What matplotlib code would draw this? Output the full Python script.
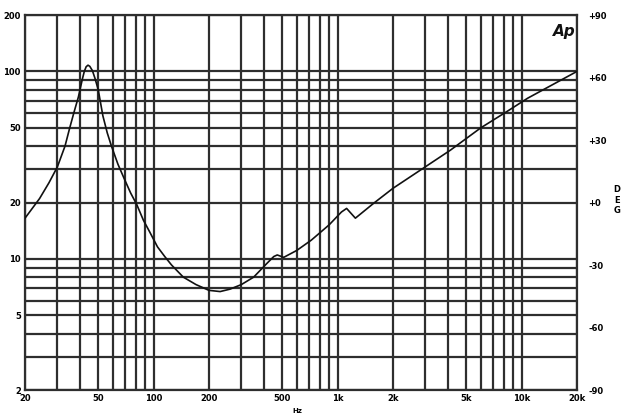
import matplotlib
matplotlib.use("Agg")
import matplotlib.pyplot as plt
from matplotlib.ticker import FixedLocator, FixedFormatter, NullFormatter

# impedance curve (Hz, ohm)
freq = [20, 24, 27, 30, 33, 35, 37, 39, 41, 42, 43, 44, 45, 46.5, 48, 50, 53,
        56, 59, 64, 69, 75, 81, 88, 95, 105, 115, 125, 145, 170, 200, 230,
        260, 300, 350, 410, 450, 470, 510, 600, 720, 900, 1050, 1120, 1250,
        1570, 2000, 3000, 4100, 6000, 8300, 10800, 14100, 20000]
imp = [16.5, 21, 25.5, 31, 40, 50, 61, 73, 91, 100, 106, 108, 106.5, 101, 92,
       80, 58, 47, 40, 32, 27, 22.5, 19.5, 16.1, 14, 11.6, 10.3, 9.3, 8.0,
       7.3, 6.8, 6.7, 6.9, 7.3, 8.0, 9.4, 10.3, 10.5, 10.2, 11.1, 12.6, 15.2,
       17.8, 18.6, 16.5, 19.8, 23.8, 31, 38, 50, 61, 72, 83, 100]

x_ticks = [20, 50, 100, 200, 500, 1000, 2000, 5000, 10000, 20000]
x_labels = ["20", "50", "100", "200", "500", "1k", "2k", "5k", "10k", "20k"]
y_ticks = [2, 5, 10, 20, 50, 100, 200]
y_labels = ["2", "5", "10", "20", "50", "100", "200"]
deg_ticks = [-90, -60, -30, 0, 30, 60, 90]
deg_labels = ["-90", "-60", "-30", "+0", "+30", "+60", "+90"]

x_grid = [m * 10 ** k for k in (1, 2, 3) for m in range(2, 10)] + [10000, 20000]
y_grid = [m * 10 ** k for k in (0, 1) for m in range(2, 10)] + [100, 200]

grid_col = "#2e2e2e"
fig = plt.figure(figsize=(6.3, 4.16), dpi=100)
ax = fig.add_axes([0.0397, 0.0625, 0.876, 0.9014])
ax.set_xscale("log")
ax.set_yscale("log")
ax.set_xlim(20, 20000)
ax.set_ylim(2, 200)

ax.xaxis.set_major_locator(FixedLocator(x_ticks))
ax.xaxis.set_major_formatter(FixedFormatter(x_labels))
ax.xaxis.set_minor_locator(FixedLocator([v for v in x_grid if v not in x_ticks]))
ax.xaxis.set_minor_formatter(NullFormatter())
ax.yaxis.set_major_locator(FixedLocator(y_ticks))
ax.yaxis.set_major_formatter(FixedFormatter(y_labels))
ax.yaxis.set_minor_locator(FixedLocator([v for v in y_grid if v not in y_ticks]))
ax.yaxis.set_minor_formatter(NullFormatter())

ax.grid(which="both", color=grid_col, lw=1.6)
ax.set_axisbelow(True)
ax.tick_params(which="both", length=0)
ax.tick_params(axis="x", pad=3, labelsize=6)
ax.tick_params(axis="y", pad=3, labelsize=6)
for lab in ax.get_xticklabels() + ax.get_yticklabels():
    lab.set_fontweight("bold")
for sp in ax.spines.values():
    sp.set_linewidth(1.6)
    sp.set_color(grid_col)

ax.plot(freq, imp, color="#111111", lw=1.2, zorder=3)

ax2 = ax.twinx()
ax2.set_ylim(-90, 90)
ax2.set_yticks(deg_ticks)
ax2.set_yticklabels(deg_labels, fontsize=6, fontweight="bold")
ax2.tick_params(length=0, pad=8)
for sp in ax2.spines.values():
    sp.set_visible(False)

ax.text(0.997, 0.975, "Ap", transform=ax.transAxes, ha="right", va="top",
        fontsize=11, fontweight="bold", fontstyle="italic", color="#111111")
fig.text(617 / 630, 1 - 200 / 416, "D\nE\nG", ha="center", va="center",
         fontsize=6, fontweight="bold", linespacing=1.15)
fig.text(297 / 630, 1 - 411 / 416, "Hz", ha="center", va="center",
         fontsize=5, fontweight="bold")

fig.savefig("out.png", dpi=100)
